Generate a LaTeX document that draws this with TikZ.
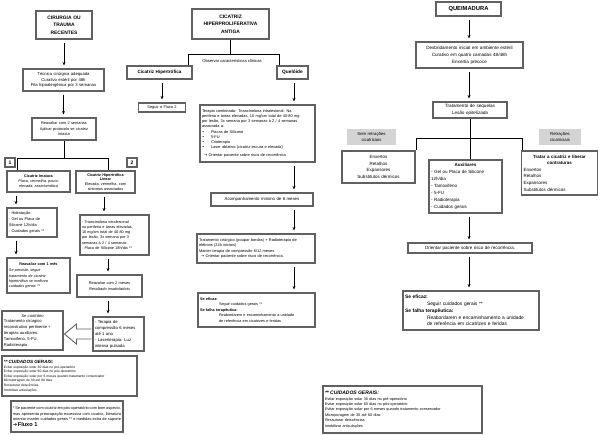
\documentclass[tikz,border=0pt]{standalone}
\usepackage{fontspec}
\setmainfont{Liberation Sans}
\newfontfamily\symb{DejaVu Sans}
\usetikzlibrary{calc,arrows.meta}
\newcommand{\taille}[2]{\fontsize{#1}{#2}\selectfont}
\tikzset{
    boite/.style={draw=black!62, line width=1.1pt, fill=white, inner sep=2pt, align=center},
    titre/.style={boite, font=\bfseries\taille{4.9}{7.5}},
    fleche/.style={-{Stealth[length=3.5pt,width=3pt]}, line width=0.8pt, shorten <=3pt, shorten >=3pt},
    trait/.style={line width=0.8pt},
    grise/.style={fill=black!17, inner sep=1.5pt, align=center},
  }
\begin{document}
\begin{tikzpicture}[x=1pt,y=-1pt]
	\useasboundingbox (0,0) rectangle (600,434);
	%coordonnees en pixels, y vers le bas

	%CIRURGIA OU TRAUMA
	\node[titre, text width=52pt, minimum height=28pt] (cir) at (64,25) {CIRURGIA OU\\TRAUMA\\RECENTES};
	\node[boite, text width=77pt, minimum height=22pt, font=\taille{4.2}{5.6}] (tec) at (63.5,80) {Técnica cirúrgica adequada\\Curativo estéril por 48h\\Fita hipoalergênica por 3 semanas};
	\node[boite, text width=60pt, minimum height=22pt, font=\taille{3.9}{5.4}] (reav2) at (64,129) {Reavaliar com 2 semanas\\Aplicar protocolo se cicatriz\\intacta};
	\draw[fleche] (cir.south) -- (cir.south |- tec.north);
	\draw[fleche] (tec.south) -- (tec.south |- reav2.north);

	%branches 1 et 2
	\node[boite, inner sep=0pt, minimum width=10pt, minimum height=9pt, font=\bfseries\taille{5}{6}] (n1) at (10,162.5) {1};
	\node[boite, inner sep=0pt, minimum width=10pt, minimum height=9pt, font=\bfseries\taille{5}{6}] (n2) at (132,162.5) {2};
	\node[boite, text width=59pt, minimum height=21pt, font=\taille{3.8}{4.8}] (imat) at (38.5,181.5) {\textbf{Cicatriz Imatura}\\\textit{Placa, vermelha, pouco}\\\textit{elevada, assintomática}};
	\node[boite, inner sep=1.5pt, text width=56pt, minimum height=22pt, font=\taille{3.8}{4.8}] (hlin) at (105.5,182) {\textbf{Cicatriz Hipertrófica}\\\textbf{Linear}\\Elevada, vermelha, com\\sintomas associados};
	\coordinate (bg) at (17,158);
	\coordinate (bd) at (108,158);
	\draw[trait] (reav2.south) -- (reav2.south |- bg);
	\draw[trait] (bg |- imat.north) -- (bg) -- (bd) -- (bd |- hlin.north);

	%colonne 1
	\node[boite, text width=46pt, minimum height=29pt, align=left, font=\taille{3.9}{5.8}] (hidr) at (32,222.5) {- Hidratação\\- Gel ou Placa de\\Silicone 12h/dia\\- Cuidados gerais **};
	\node[boite, text width=59pt, minimum height=35pt, align=left, font=\taille{3.8}{5.3}] (reav1) at (38.5,275.5) {{\centering\textbf{Reavaliar com 1 mês}\par}\vspace{1.5pt}\itshape Se persistir, seguir\\tratamento de cicatriz\\hipertrófica se melhora\\cuidados gerais **};
	\coordinate (xg) at (16,0);
	\draw[fleche] (xg |- imat.south) -- (xg |- hidr.north);
	\draw[fleche] (xg |- hidr.south) -- (xg |- reav1.north);

	%colonne 2
	\node[boite, text width=65pt, minimum height=40pt, align=left, font=\taille{3.8}{5.2}] (tria) at (114.5,235) {- Triancinolona intralesional\\na periferia e áreas elevadas,\\10 mg/cm total de 40-80 mg\\por lesão, 3x semana por 3\\semanas à 2 / 4 semanas\\- Placa de Silicone 18h/dia **};
	\node[boite, text width=61pt, minimum height=22pt, font=\taille{3.9}{5.4}] (reavm) at (109.5,286) {Reavaliar com 2 meses\\\textit{Resultado insatisfatório}};
	\node[boite, text width=47pt, minimum height=34pt, align=left, font=\taille{4.2}{6}] (comp) at (118.5,334) {- Terapia de\\compressão 6 meses\\até 1 ano\\- Laserterapia: Luz\\intensa pulsada};
	\node[boite, text width=57pt, minimum height=39pt, align=left, font=\taille{4.1}{5.8}] (contr) at (32.5,330.5) {{\centering\textit{Se contrário}\par}Tratamento cirúrgico\\reconstrutivo pertinente +\\terapias auxiliares:\\Tamoxifeno, 5-FU,\\Radioterapia};
	\coordinate (xd) at (104,0);
	\coordinate (xe) at (108,0);
	\draw[fleche] (xd |- hlin.south) -- (xd |- tria.north);
	\draw[fleche] (xe |- tria.south) -- (xe |- reavm.north);
	\draw[fleche] (xe |- reavm.south) -- (xe |- comp.north);
	%grosse fleche creuse
	\draw[draw=black!62, line width=0.9pt, fill=white] ($(comp.west)+(-1,-5)$) -- ++(-15,0) -- ++(0,-5) -- ++(-12,10) -- ++(12,10) -- ++(0,-5) -- ++(15,0);

	%CUIDADOS GERAIS et Fluxo 1
	\node[boite, text width=131pt, minimum height=40pt, align=left, font=\taille{3.3}{4.6}] (cuid1) at (69.5,376) {{\bfseries\itshape\taille{4.6}{5.6}** CUIDADOS GERAIS:}\\Evitar exposição solar 30 dias no pré-operatório\\Evitar exposição solar 60 dias no pós-operatório\\Evitar exposição solar por 6 meses quando tratamento conservador\\Microporagem de 30 até 60 dias\\Ressuturar deiscências\\Imobilizar articulações};
	\node[boite, text width=108pt, minimum height=31pt, align=justify, font=\taille{3.9}{5.5}] (fl1) at (67,416.5) {* Se paciente com cicatriz em pós-operatório com bom aspecto, mas apresenta preocupação excessiva com cicatriz, literatura orientar manter cuidados gerais ** e medidas extra de suporte {\symb\taille{5}{5}➔}\,\textbf{\taille{5.6}{5.6}Fluxo 1}};

	%CICATRIZ ANTIGA
	\node[titre, text width=73pt, minimum height=30pt] (antiga) at (230.5,24) {CICATRIZ\\HIPERPROLIFERATIVA\\ANTIGA};
	\node[boite, text width=61pt, minimum height=13pt, font=\bfseries\taille{4.6}{5.5}] (hiper) at (159.5,72.5) {Cicatriz Hipertrófica};
	\node[boite, text width=27pt, minimum height=13pt, font=\bfseries\taille{4.8}{5.5}] (quel) at (292.5,72.5) {Quelóide};
	\node[font=\taille{4.1}{5}] (obs) at (232,61) {Observar características clínicas};
	\coordinate (og) at (188,54);
	\coordinate (od) at (279,54);
	\draw[trait] (antiga.south) -- (antiga.south |- og);
	\draw[trait] (og |- hiper.north) -- (og) -- (od) -- (od |- quel.north);
	\node[boite, text width=44pt, minimum height=9pt, inner sep=1.5pt, font=\taille{3.9}{4.5}] (fluxo2) at (162,107.5) {Seguir o Fluxo 2};
	\draw[fleche] (fluxo2.north |- hiper.south) -- (fluxo2.north);

	%Queloide
	\node[boite, text width=111pt, minimum height=57pt, align=left, font=\taille{3.9}{5.1}] (comb) at (257.5,133.5) {Terapia combinada: Triancinolona intralesional: Na\\periferia e áreas elevadas, 10 mg/cm total de 40-80 mg\\por lesão, 3x semana por 3 semanas à 2 / 4 semanas\\associada a:\\\makebox[9pt][l]{\symb•}Placas de Silicone\\\makebox[9pt][l]{\symb•}5-FU\\\makebox[9pt][l]{\symb•}Crioterapia\\\makebox[9pt][l]{\symb•}Laser ablativo (cicatriz escura e elevada)\\[3pt]\hspace*{2pt}{\symb→} Orientar paciente sobre risco de recorrência.};
	\node[boite, text width=98pt, minimum height=13pt, font=\taille{4.3}{5}] (acomp) at (262,199.5) {Acompanhamento mínimo de 6 meses};
	\node[boite, text width=114pt, minimum height=29pt, align=left, font=\taille{3.9}{5.5}] (cirq) at (256,248.5) {Tratamento cirúrgico (poupar bordas) + Radioterapia de\\elétrons (24h iniciais)\\Manter terapia de compressão 6/12 meses\\\hspace*{2pt}{\symb→} Orientar paciente sobre risco de recorrência.};
	\node[boite, text width=113pt, minimum height=34pt, align=left, font=\taille{3.8}{5.6}] (efi1) at (256.5,310) {\textbf{Se eficaz:}\\\hspace*{19pt}Seguir cuidados gerais **\\\textbf{Se falha terapêutica:}\\\hspace*{19pt}Reabordarem e encaminhamento a unidade\\\hspace*{19pt}de referência em cicatrizes e feridas};
	\coordinate (xm) at (294,0);
	\draw[fleche] (xm |- quel.south) -- (xm |- comb.north);
	\draw[fleche] (xm |- comb.south) -- (xm |- acomp.north);
	\draw[fleche] (xm |- acomp.south) -- (xm |- cirq.north);
	\draw[fleche] (xm |- cirq.south) -- (xm |- efi1.north);

	%QUEIMADURA
	\node[titre, text width=61pt, minimum height=14pt, font=\bfseries\taille{5.8}{7}] (queim) at (468.5,9) {QUEIMADURA};
	\node[boite, text width=103pt, minimum height=26pt, font=\taille{4.6}{6.8}] (desb) at (469.5,55) {Desbridamento inicial em ambiente estéril\\Curativo em quatro camadas 48/48h\\Enxertia precoce};
	\node[boite, text width=70pt, minimum height=16pt, font=\taille{4.6}{6.4}] (seq) at (470,110) {Tratamento de sequelas\\\textit{Lesão epitelizada}};
	\coordinate (xr) at (469,0);
	\draw[fleche] (xr |- queim.south) -- (xr |- desb.north);
	\draw[fleche] (xr |- desb.south) -- (xr |- seq.north);

	%sequelas
	\node[grise, text width=46pt, minimum height=16pt, font=\taille{4.3}{5.6}] (sem) at (371.5,137) {Sem retrações\\cicatriciais};
	\node[grise, text width=39pt, minimum height=16pt, font=\taille{4.3}{5.6}] (com) at (560,137) {Retrações\\cicatriciais};
	\node[boite, text width=69pt, minimum height=32pt, font=\taille{4.5}{6.5}] (esq) at (378.5,167) {Enxertos\\Retalhos\\Expansores\\Substitutos dérmicos};
	\node[boite, text width=69pt, minimum height=53pt, align=left, font=\taille{4.5}{6.9}] (aux) at (465.5,186.5) {{\centering\textbf{Auxiliares}\par}- Gel ou Placa de Silicone\\12h/dia\\- Tamoxifeno\\- 5-FU\\- Radioterapia\\- Cuidados gerais};
	\node[boite, text width=72pt, minimum height=44pt, align=left, font=\taille{4.5}{6.6}] (dir) at (559.5,173) {{\centering\textbf{Tratar a cicatriz e liberar}\\\textbf{contraturas}\par}Enxertos\\Retalhos\\Expansores\\Substitutos dérmicos};
	\coordinate (rg) at (416,138);
	\coordinate (rd) at (522,138);
	\draw[trait] (seq.south) -- (seq.south |- aux.north);
	\draw[trait] (rg |- esq.north) -- (rg) -- (rd) -- (rd |- dir.north);

	%fin queimadura
	\node[boite, text width=120pt, minimum height=10pt, inner sep=2pt, font=\taille{4.5}{5}] (ori) at (470,248) {Orientar paciente sobre risco de recorrência.};
	\node[boite, text width=132pt, minimum height=39pt, align=left, font=\taille{4.9}{6.8}] (efi2) at (471,310.5) {\textbf{Se eficaz:}\\\hspace*{22pt}Seguir cuidados gerais **\\\textbf{Se falha terapêutica:}\\\hspace*{22pt}Reabordarem e encaminhamento a unidade\\\hspace*{22pt}de referência em cicatrizes e feridas};
	\draw[fleche] (xr |- aux.south) -- (xr |- ori.north);
	\draw[fleche] (xr |- ori.south) -- (xr |- efi2.north);
	\node[boite, text width=155pt, minimum height=47pt, align=left, font=\taille{3.8}{5.4}] (cuid2) at (402.5,409.5) {{\bfseries\itshape\taille{5}{6}** CUIDADOS GERAIS:}\\Evitar exposição solar 30 dias no pré-operatório\\Evitar exposição solar 60 dias no pós-operatório\\Evitar exposição solar por 6 meses quando tratamento conservador\\Microporagem de 30 até 60 dias\\Ressuturar deiscências\\Imobilizar articulações};
\end{tikzpicture}
\end{document}
